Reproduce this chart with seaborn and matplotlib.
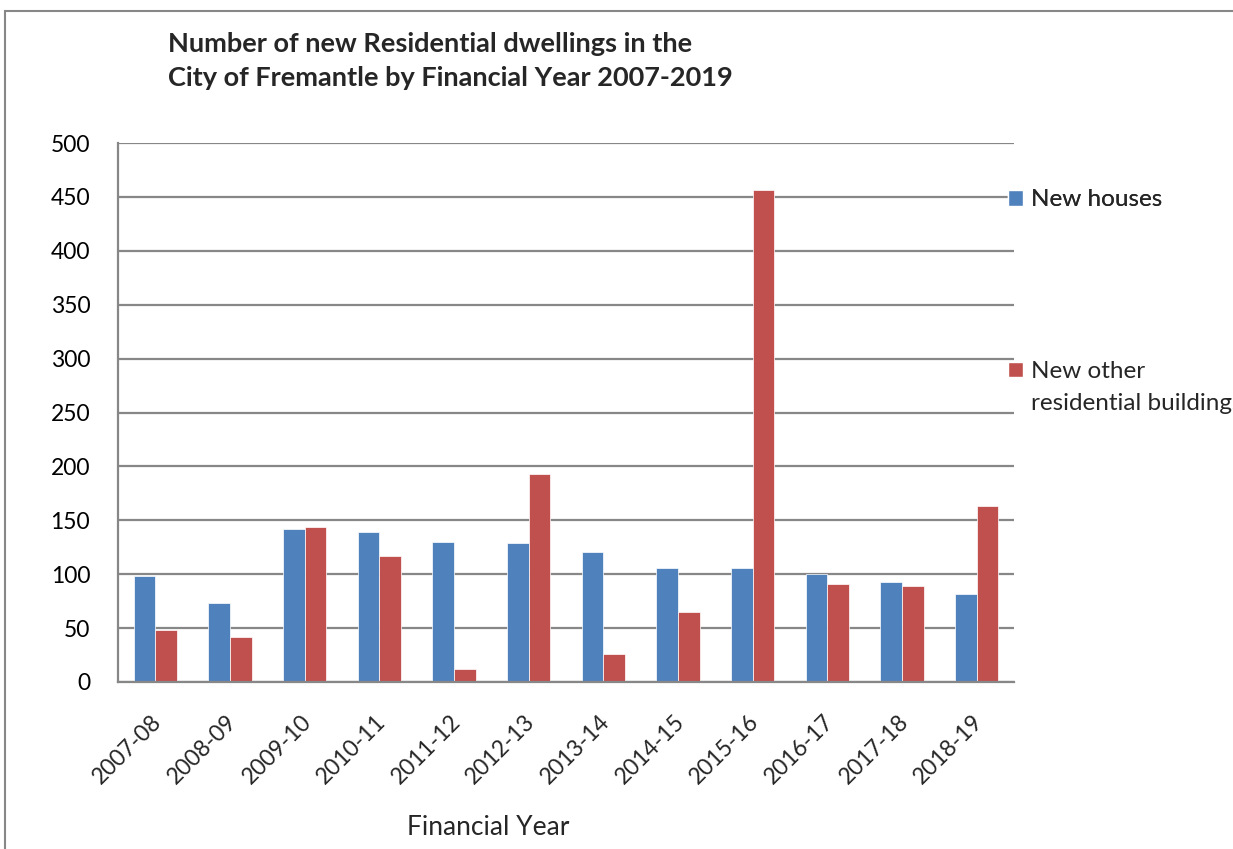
import matplotlib
matplotlib.use("Agg")
import matplotlib.pyplot as plt
from matplotlib.patches import Patch, Rectangle
from matplotlib.transforms import ScaledTranslation
import seaborn as sns
import pandas as pd

# Financial years and dwelling counts
years = ["2007-08", "2008-09", "2009-10", "2010-11", "2011-12", "2012-13",
         "2013-14", "2014-15", "2015-16", "2016-17", "2017-18", "2018-19"]
new_houses = [98, 73, 142, 139, 130, 129, 121, 106, 106, 100, 93, 82]
new_other = [48, 42, 144, 117, 12, 193, 26, 65, 456, 91, 89, 163]
series_names = ["New houses", "New other residential buildings"]
colors = ["#4F81BD", "#C0504D"]
yticks = [0, 50, 100, 150, 200, 250, 300, 350, 400, 450, 500]

sns.set_style("white")
plt.rcParams["font.family"] = ["Lato", "DejaVu Sans"]

df = pd.DataFrame({
    "year": years * 2,
    "count": new_houses + new_other,
    "series": [series_names[0]] * len(years) + [series_names[1]] * len(years),
})

fig = plt.figure(figsize=(12.33, 8.49), dpi=100)
ax = fig.add_axes([118 / 1233, 1 - 682 / 849, 896 / 1233, 539 / 849])

sns.barplot(data=df, x="year", y="count", hue="series", order=years,
            hue_order=series_names, palette=colors, width=0.58,
            saturation=1, edgecolor="white", linewidth=0.5, legend=False, ax=ax)

grid_c = "#878787"
ax.set_ylim(0, 500)
ax.set_xlim(-0.5, len(years) - 0.5)
ax.set_yticks(yticks)
ax.yaxis.grid(True, color=grid_c, linewidth=1.6)
ax.set_axisbelow(True)
for s in ["top", "right"]:
    ax.spines[s].set_visible(False)
for s in ["left", "bottom"]:
    ax.spines[s].set_color(grid_c)
    ax.spines[s].set_linewidth(1.6)

ax.tick_params(axis="y", which="major", length=8, width=1.6, color=grid_c,
               labelsize=16.5, pad=12, labelcolor="black")
ax.set_xticks(range(len(years)))
ax.set_xticks([i - 0.5 for i in range(len(years) + 1)], minor=True)
ax.tick_params(axis="x", which="major", length=0, labelsize=16.5, pad=26)
ax.tick_params(axis="x", which="minor", length=8, width=1.6, color=grid_c)
ax.set_xticklabels(years, rotation=45, ha="right", va="center",
                   rotation_mode="anchor")
shift = ScaledTranslation(3 / 100, 0, fig.dpi_scale_trans)
for lbl in ax.get_xticklabels():
    lbl.set_transform(lbl.get_transform() + shift)

ax.set_ylabel("")
ax.set_xlabel("Financial Year", fontsize=19)
ax.xaxis.set_label_coords((488 - 118) / 896, (682 - 815) / 539)

fig.text(168 / 1233, 1 - 86 / 849,
         "Number of new Residential dwellings in the\n"
         "City of Fremantle by Financial Year 2007-2019",
         fontsize=19.5, fontweight="bold", ha="left", va="baseline",
         linespacing=1.5)

# Legend outside the plot area on the right
words = series_names[1].split(" ")
leg1 = fig.legend(handles=[Patch(facecolor=colors[0])], labels=[series_names[0]],
                  loc="center left", bbox_to_anchor=(1008 / 1233, 1 - 200 / 849),
                  frameon=False, fontsize=17.5, handlelength=0.6, handleheight=0.6,
                  handletextpad=0.35, borderpad=0, borderaxespad=0)
leg2 = fig.legend(handles=[Patch(facecolor=colors[1]), Patch(alpha=0)],
                  labels=[" ".join(words[:2]), " ".join(words[2:])],
                  loc="upper left", bbox_to_anchor=(1008 / 1233, 1 - 361 / 849),
                  frameon=False, fontsize=17.5, handlelength=0.6, handleheight=0.6,
                  handletextpad=0.35, borderpad=0, borderaxespad=0, labelspacing=0.45)
fig.add_artist(leg1)

# Chart area border
fig.patches.append(Rectangle((5 / 1233, -0.1), 1.2, 1 - 11 / 849 + 0.1,
                             transform=fig.transFigure, fill=False,
                             edgecolor="#878787", linewidth=1.5))

fig.savefig("out.png", dpi=100)
